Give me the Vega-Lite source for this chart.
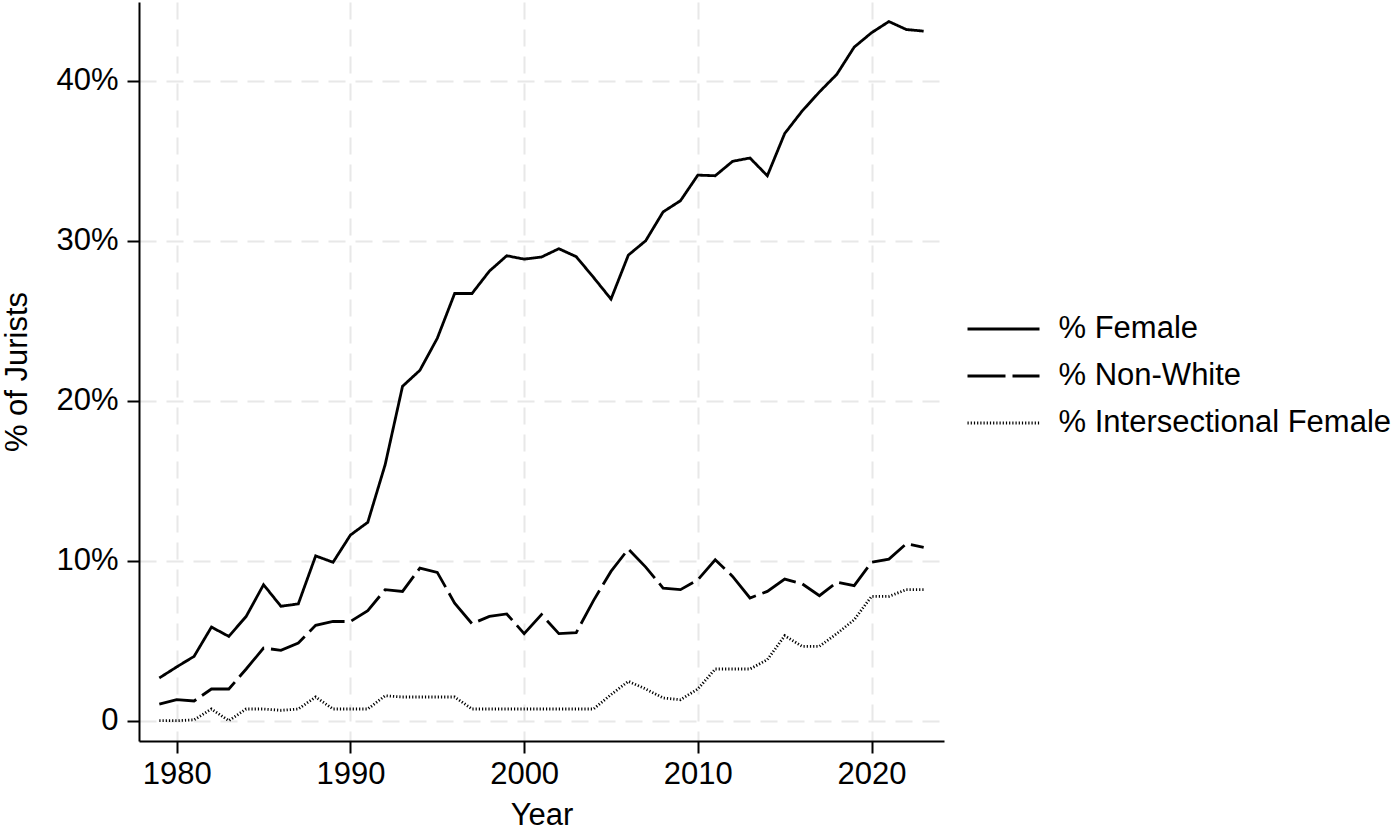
{
  "$schema": "https://vega.github.io/schema/vega-lite/v6.json",
  "width": 805,
  "height": 739,
  "autosize": "none",
  "padding": {"left": 139, "top": 2, "right": 454, "bottom": 91},
  "background": "white",
  "config": {
    "view": {"stroke": null},
    "font": "Liberation Sans",
    "axis": {
      "domainColor": "black",
      "domainWidth": 2,
      "tickColor": "black",
      "tickWidth": 2,
      "tickSize": 12,
      "labelFont": "Liberation Sans",
      "labelFontSize": 31,
      "labelColor": "black",
      "titleFont": "Liberation Sans",
      "titleFontSize": 31,
      "titleFontWeight": "normal",
      "titleColor": "black",
      "gridColor": "#e8e8e8",
      "gridWidth": 2,
      "gridDash": [17, 10]
    },
    "legend": {
      "labelFont": "Liberation Sans",
      "labelFontSize": 31,
      "labelColor": "black",
      "labelLimit": 0
    }
  },
  "data": {
    "values": [
      {"year": 1979, "% Female": 2.67, "% Non-White": 1.04, "% Intersectional Female": 0},
      {"year": 1980, "% Female": 3.36, "% Non-White": 1.31, "% Intersectional Female": 0},
      {"year": 1981, "% Female": 4.02, "% Non-White": 1.23, "% Intersectional Female": 0.05},
      {"year": 1982, "% Female": 5.85, "% Non-White": 1.98, "% Intersectional Female": 0.73},
      {"year": 1983, "% Female": 5.27, "% Non-White": 1.98, "% Intersectional Female": 0},
      {"year": 1984, "% Female": 6.52, "% Non-White": 3.23, "% Intersectional Female": 0.73},
      {"year": 1985, "% Female": 8.5, "% Non-White": 4.54, "% Intersectional Female": 0.73},
      {"year": 1986, "% Female": 7.15, "% Non-White": 4.4, "% Intersectional Female": 0.65},
      {"year": 1987, "% Female": 7.3, "% Non-White": 4.85, "% Intersectional Female": 0.73},
      {"year": 1988, "% Female": 10.3, "% Non-White": 5.96, "% Intersectional Female": 1.48},
      {"year": 1989, "% Female": 9.9, "% Non-White": 6.2, "% Intersectional Female": 0.73},
      {"year": 1990, "% Female": 11.6, "% Non-White": 6.2, "% Intersectional Female": 0.73},
      {"year": 1991, "% Female": 12.4, "% Non-White": 6.88, "% Intersectional Female": 0.73},
      {"year": 1992, "% Female": 16.0, "% Non-White": 8.19, "% Intersectional Female": 1.56},
      {"year": 1993, "% Female": 20.9, "% Non-White": 8.08, "% Intersectional Female": 1.48},
      {"year": 1994, "% Female": 21.9, "% Non-White": 9.54, "% Intersectional Female": 1.48},
      {"year": 1995, "% Female": 23.9, "% Non-White": 9.27, "% Intersectional Female": 1.48},
      {"year": 1996, "% Female": 26.7, "% Non-White": 7.35, "% Intersectional Female": 1.48},
      {"year": 1997, "% Female": 26.7, "% Non-White": 6.06, "% Intersectional Female": 0.73},
      {"year": 1998, "% Female": 28.1, "% Non-White": 6.52, "% Intersectional Female": 0.73},
      {"year": 1999, "% Female": 29.06, "% Non-White": 6.67, "% Intersectional Female": 0.73},
      {"year": 2000, "% Female": 28.85, "% Non-White": 5.44, "% Intersectional Female": 0.73},
      {"year": 2001, "% Female": 28.98, "% Non-White": 6.63, "% Intersectional Female": 0.73},
      {"year": 2002, "% Female": 29.5, "% Non-White": 5.44, "% Intersectional Female": 0.73},
      {"year": 2003, "% Female": 29.0, "% Non-White": 5.5, "% Intersectional Female": 0.73},
      {"year": 2004, "% Female": 27.7, "% Non-White": 7.52, "% Intersectional Female": 0.73},
      {"year": 2005, "% Female": 26.35, "% Non-White": 9.33, "% Intersectional Female": 1.63},
      {"year": 2006, "% Female": 29.1, "% Non-White": 10.73, "% Intersectional Female": 2.46},
      {"year": 2007, "% Female": 30.0, "% Non-White": 9.6, "% Intersectional Female": 1.98},
      {"year": 2008, "% Female": 31.8, "% Non-White": 8.29, "% Intersectional Female": 1.42},
      {"year": 2009, "% Female": 32.5, "% Non-White": 8.19, "% Intersectional Female": 1.31},
      {"year": 2010, "% Female": 34.1, "% Non-White": 8.81, "% Intersectional Female": 1.98},
      {"year": 2011, "% Female": 34.06, "% Non-White": 10.06, "% Intersectional Female": 3.23},
      {"year": 2012, "% Female": 34.96, "% Non-White": 9.02, "% Intersectional Female": 3.23},
      {"year": 2013, "% Female": 35.17, "% Non-White": 7.67, "% Intersectional Female": 3.23},
      {"year": 2014, "% Female": 34.06, "% Non-White": 8.08, "% Intersectional Female": 3.81},
      {"year": 2015, "% Female": 36.7, "% Non-White": 8.85, "% Intersectional Female": 5.31},
      {"year": 2016, "% Female": 38.1, "% Non-White": 8.56, "% Intersectional Female": 4.65},
      {"year": 2017, "% Female": 39.3, "% Non-White": 7.81, "% Intersectional Female": 4.65},
      {"year": 2018, "% Female": 40.4, "% Non-White": 8.65, "% Intersectional Female": 5.44},
      {"year": 2019, "% Female": 42.1, "% Non-White": 8.44, "% Intersectional Female": 6.31},
      {"year": 2020, "% Female": 43.0, "% Non-White": 9.9, "% Intersectional Female": 7.77},
      {"year": 2021, "% Female": 43.7, "% Non-White": 10.1, "% Intersectional Female": 7.77},
      {"year": 2022, "% Female": 43.2, "% Non-White": 11.06, "% Intersectional Female": 8.19},
      {"year": 2023, "% Female": 43.1, "% Non-White": 10.83, "% Intersectional Female": 8.19}
    ]
  },
  "transform": [
    {"fold": ["% Female", "% Non-White", "% Intersectional Female"], "as": ["series", "value"]}
  ],
  "mark": {"type": "line", "color": "black", "strokeWidth": 2.8, "strokeCap": "butt", "strokeJoin": "miter"},
  "encoding": {
    "x": {
      "field": "year",
      "type": "quantitative",
      "scale": {"domain": [1977.83, 2024.17], "nice": false, "zero": false},
      "axis": {"values": [1980, 1990, 2000, 2010, 2020], "format": "d", "title": "Year", "labelPadding": 6, "titlePadding": 11}
    },
    "y": {
      "field": "value",
      "type": "quantitative",
      "scale": {"domain": [-1.27, 44.92], "nice": false, "zero": false},
      "axis": {
        "values": [0, 10, 20, 30, 40],
        "labelExpr": "datum.value == 0 ? '0' : datum.value + '%'",
        "title": "% of Jurists",
        "labelPadding": 9,
        "titlePadding": 22
      }
    },
    "strokeDash": {
      "field": "series",
      "type": "nominal",
      "scale": {
        "domain": ["% Female", "% Non-White", "% Intersectional Female"],
        "range": [[1, 0], [38, 7], [1.2, 2]]
      },
      "legend": {
        "title": null,
        "orient": "none",
        "legendX": 849,
        "legendY": 311.5,
        "padding": 0,
        "symbolType": "M-3,0H3",
        "symbolSize": 576,
        "symbolStrokeWidth": 2.8,
        "symbolStrokeColor": "black",
        "symbolFillColor": "transparent",
        "labelOffset": 39.5,
        "labelLimit": 0,
        "rowPadding": 15
      }
    }
  }
}
